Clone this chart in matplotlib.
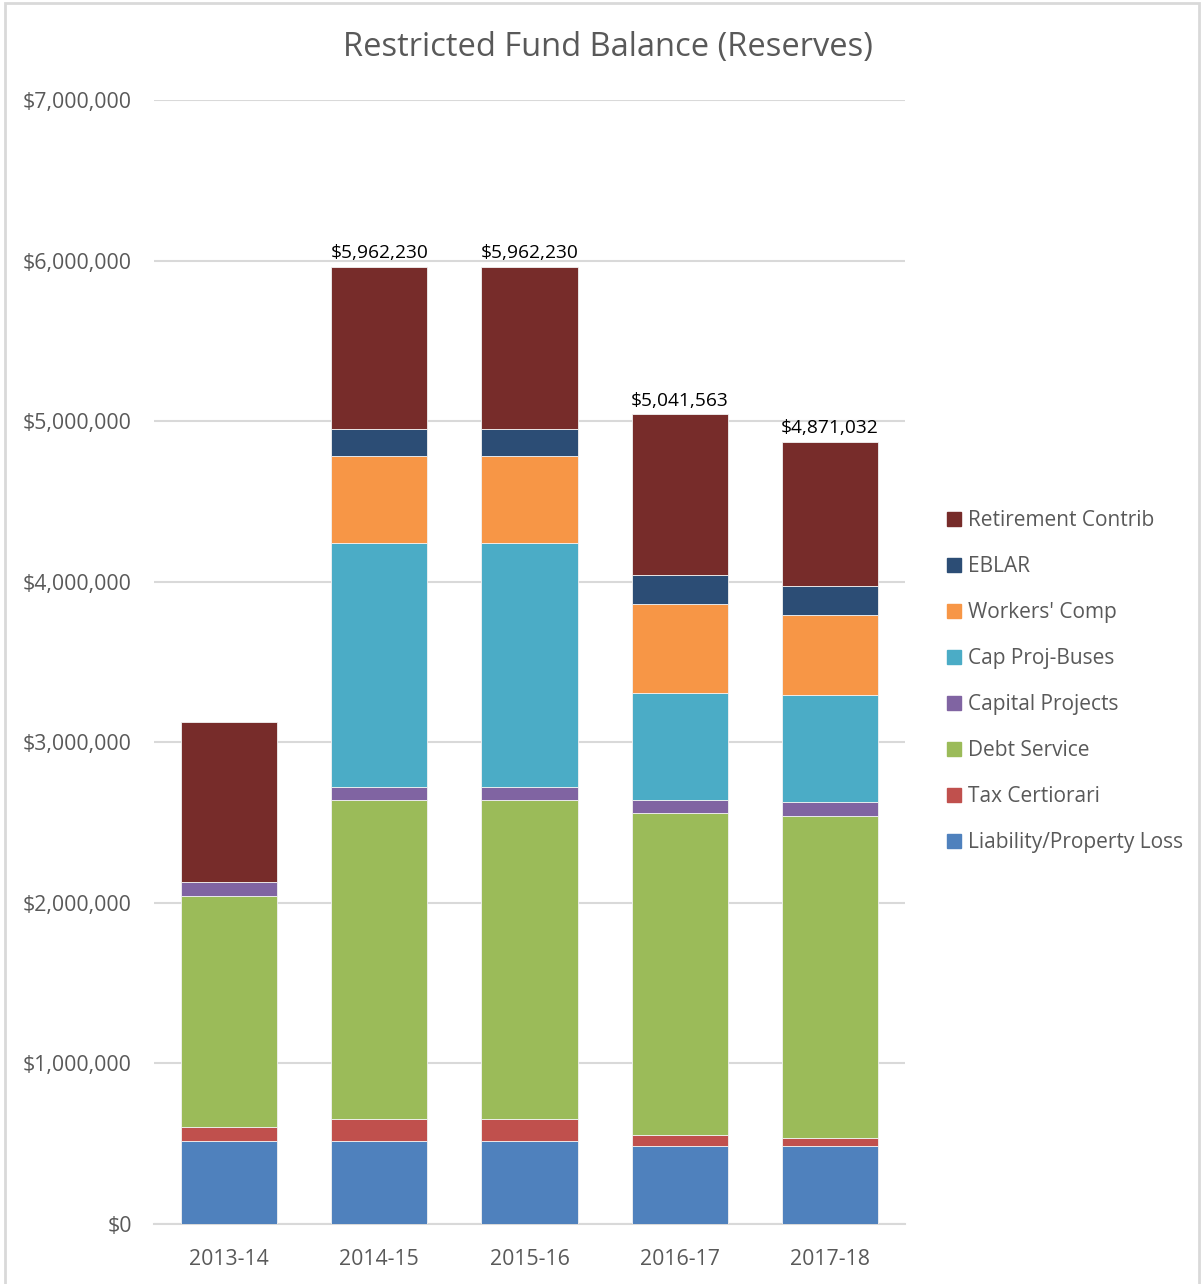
import numpy as np
import matplotlib.pyplot as plt
from matplotlib.lines import Line2D
from matplotlib.patches import Rectangle
from matplotlib.ticker import FuncFormatter

plt.rcParams['font.family'] = ['Open Sans', 'DejaVu Sans']

years = ['2013-14', '2014-15', '2015-16', '2016-17', '2017-18']
liability = [517000, 517000, 517000, 486000, 486000]
tax_cert = [87000, 137000, 137000, 68000, 50000]
debt_service = [1439000, 1987000, 1987000, 2006000, 2005000]
capital_proj = [87000, 79000, 79000, 81000, 87000]
cap_buses = [0, 1521000, 1521000, 666000, 667000]
workers_comp = [0, 542000, 542000, 554000, 498000]
eblar = [0, 168000, 168000, 181000, 180000]
retirement = [996000, 1011230, 1011230, 999563, 898032]
totals_shown = [None, 5962230, 5962230, 5041563, 4871032]

series = [
    ('Liability/Property Loss', liability, '#4F81BD'),
    ('Tax Certiorari', tax_cert, '#C0504D'),
    ('Debt Service', debt_service, '#9BBB59'),
    ('Capital Projects', capital_proj, '#8064A2'),
    ('Cap Proj-Buses', cap_buses, '#4BACC6'),
    ("Workers' Comp", workers_comp, '#F79646'),
    ('EBLAR', eblar, '#2C4D75'),
    ('Retirement Contrib', retirement, '#772C2A'),
]

fig = plt.figure(figsize=(12.04, 12.84), dpi=100)
ax = fig.add_axes([0.1279, 0.0467, 0.6238, 0.8754])
fig.patches.append(Rectangle((0.004, -0.01), 0.992, 1.008, transform=fig.transFigure,
                             fill=False, edgecolor='#D9D9D9', linewidth=2))

x = np.arange(len(years))
bottom = np.zeros(len(years))
for name, vals, col in series:
    vals = np.array(vals, dtype=float)
    ax.bar(x, vals, 0.64, bottom=bottom, color=col, edgecolor='#F2F2F2', linewidth=0.6,
           label=name, zorder=3)
    bottom += vals

for i, t in enumerate(totals_shown):
    if t is not None:
        ax.text(x[i], bottom[i] + 30000, '${:,}'.format(t), ha='center', va='bottom',
                fontsize=13.8, color='black')

ax.set_xlim(-0.5, 4.5)
ax.set_ylim(0, 7000000)
ax.set_yticks(np.arange(0, 7000001, 1000000))
ax.yaxis.set_major_formatter(FuncFormatter(lambda v, p: '${:,.0f}'.format(v)))
ax.set_xticks(x)
ax.set_xticklabels(years)
ax.tick_params(axis='both', length=0, labelsize=15.3, colors='#595959')
ax.tick_params(axis='y', pad=16)
ax.tick_params(axis='x', pad=18)
ax.grid(axis='y', color='#D9D9D9', linewidth=1.5, zorder=0)
for s in ['top', 'right', 'left']:
    ax.spines[s].set_visible(False)
ax.spines['bottom'].set_color('#D9D9D9')
ax.spines['bottom'].set_linewidth(1.5)

fig.text(0.505, 0.963, 'Restricted Fund Balance (Reserves)', ha='center', va='center',
         fontsize=23.5, color='#595959')

handles = [Line2D([], [], marker='s', linestyle='none', markersize=10, color=col)
           for name, vals, col in series[::-1]]
labels = [name for name, vals, col in series[::-1]]
fig.legend(handles, labels, loc='center left', bbox_to_anchor=(0.768, 0.469),
           frameon=False, fontsize=15, labelcolor='#595959', labelspacing=1.2,
           handletextpad=0.2, handlelength=1.0)

fig.savefig('out.png', dpi=100)
